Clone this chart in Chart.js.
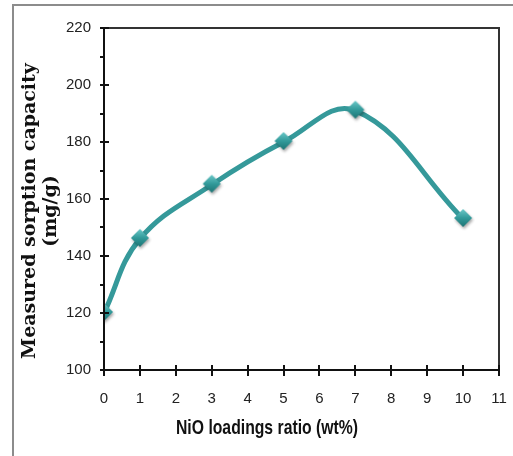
<!DOCTYPE html>
<html>
<head>
<meta charset="utf-8">
<script src="https://cdn.jsdelivr.net/npm/chart.js@4"></script>
<style>
  html, body { margin: 0; padding: 0; background: #fff; overflow: hidden; }
  #frame { position: absolute; left: 12px; top: 4px; width: 600px; height: 600px; border: 2px solid #8c8c8c; }
  #wrap { position: absolute; left: 0; top: 0; width: 513px; height: 456px; }
</style>
</head>
<body>
<div id="frame"></div>
<div id="wrap"><canvas id="chart" width="513" height="456"></canvas></div>
<script>
// NiO loading (wt%) vs measured sorption capacity (mg/g)
const loadings = [0, 1, 3, 5, 7, 10];
const capacity = [120, 146, 165, 180, 191, 153];
const xTicks = [0, 1, 2, 3, 4, 5, 6, 7, 8, 9, 10, 11];
const yTicks = [100, 120, 140, 160, 180, 200, 220];
const yMinorTicks = [110, 130, 150, 170, 190, 210];
const xTitle = 'NiO loadings ratio (wt%)';
const yTitle = ['Measured sorption capacity', '(mg/g)'];

const tickFont = "'Liberation Sans', Arial, sans-serif";
const teal = '#35999a';

// diamond marker with a bit of shading
function makeDiamond() {
    const c = document.createElement('canvas');
    c.width = 24; c.height = 24;
    const g = c.getContext('2d');
    const cx = 12, cy = 11, r = 9;
    g.shadowColor = 'rgba(0,0,0,0.35)';
    g.shadowBlur = 3;
    g.shadowOffsetX = 1;
    g.shadowOffsetY = 2;
    const grad = g.createLinearGradient(0, cy - r, 0, cy + r);
    grad.addColorStop(0, '#6cc9c9');
    grad.addColorStop(0.5, '#329a9a');
    grad.addColorStop(1, '#1d7474');
    g.fillStyle = grad;
    g.beginPath();
    g.moveTo(cx, cy - r);
    g.lineTo(cx + r, cy);
    g.lineTo(cx, cy + r);
    g.lineTo(cx - r, cy);
    g.closePath();
    g.fill();
    return c;
}

const axesPlugin = {
    id: 'axesPlugin',
    afterDraw(chart) {
        const ctx = chart.ctx;
        const a = chart.chartArea;
        const xs = chart.scales.x, ys = chart.scales.y;
        ctx.save();
        // box top & right
        ctx.strokeStyle = '#333';
        ctx.lineWidth = 2;
        ctx.beginPath();
        ctx.moveTo(a.left, a.top);
        ctx.lineTo(a.right, a.top);
        ctx.lineTo(a.right, a.bottom);
        ctx.stroke();
        // axes
        ctx.strokeStyle = '#111';
        ctx.beginPath();
        ctx.moveTo(a.left, a.top);
        ctx.lineTo(a.left, a.bottom);
        ctx.lineTo(a.right, a.bottom);
        ctx.stroke();
        // y ticks
        yTicks.forEach(v => {
            const y = Math.round(ys.getPixelForValue(v));
            ctx.beginPath();
            ctx.moveTo(a.left - 4, y);
            ctx.lineTo(a.left + 5, y);
            ctx.stroke();
        });
        yMinorTicks.forEach(v => {
            const y = Math.round(ys.getPixelForValue(v));
            ctx.beginPath();
            ctx.moveTo(a.left - 4, y);
            ctx.lineTo(a.left, y);
            ctx.stroke();
        });
        // x ticks
        xTicks.forEach(v => {
            const x = Math.round(xs.getPixelForValue(v));
            ctx.beginPath();
            ctx.moveTo(x, a.bottom - 5);
            ctx.lineTo(x, a.bottom + 6);
            ctx.stroke();
        });
        // titles
        ctx.fillStyle = '#111';
        ctx.textAlign = 'center';
        ctx.textBaseline = 'middle';
        ctx.save();
        ctx.translate(267, 428);
        ctx.scale(0.75, 1);
        ctx.font = "bold 21px 'Liberation Sans', Arial, sans-serif";
        ctx.fillText(xTitle, 0, 0);
        ctx.restore();
        ctx.translate(0, 211);
        ctx.rotate(-Math.PI / 2);
        ctx.font = "bold 19px 'DejaVu Serif', serif";
        ctx.fillText(yTitle[0], 0, 30);
        ctx.fillText(yTitle[1], 0, 51);
        ctx.restore();
    }
};

new Chart(document.getElementById('chart'), {
    type: 'line',
    data: {
        datasets: [{
            data: loadings.map((x, i) => ({ x: x, y: capacity[i] })),
            borderColor: teal,
            borderWidth: 5,
            tension: 0.4,
            pointStyle: makeDiamond(),
            pointRadius: 9,
            fill: false
        }]
    },
    options: {
        responsive: false,
        animation: false,
        layout: { padding: { left: 0, top: 28, right: 9, bottom: 0 } },
        plugins: { legend: { display: false }, tooltip: { enabled: false } },
        scales: {
            x: {
                type: 'linear',
                min: 0, max: 11,
                afterBuildTicks: s => { s.ticks = xTicks.map(v => ({ value: v })); },
                afterFit: s => { s.height = 86; s.paddingLeft = 0; s.paddingRight = 0; },
                grid: { display: false },
                border: { display: false },
                ticks: {
                    padding: 12,
                    color: '#222',
                    font: { family: tickFont, size: 15 }
                }
            },
            y: {
                min: 100, max: 220,
                afterBuildTicks: s => { s.ticks = yTicks.map(v => ({ value: v })); },
                afterFit: s => { s.width = 104; s.paddingTop = 0; s.paddingBottom = 0; },
                grid: { display: false },
                border: { display: false },
                ticks: {
                    padding: 5,
                    color: '#222',
                    font: { family: tickFont, size: 15 }
                }
            }
        }
    },
    plugins: [axesPlugin]
});
</script>
</body>
</html>
